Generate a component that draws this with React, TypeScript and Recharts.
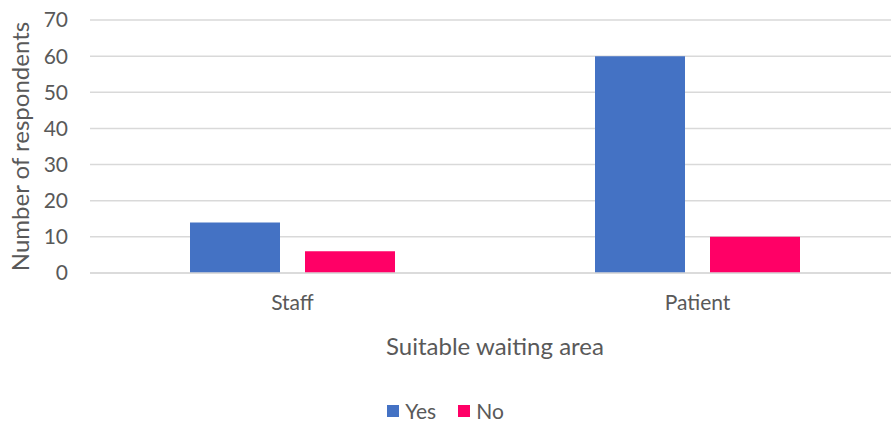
import { BarChart, Bar, XAxis, YAxis, CartesianGrid, Legend, Label } from "recharts";

const groups = ["Staff", "Patient"];
const yesCounts = [14, 60];
const noCounts = [6, 10];
const yTicks = [0, 10, 20, 30, 40, 50, 60, 70];
const seriesKeys = ["Yes", "No"];
const seriesColors = ["#4472C4", "#FF0066"];

const data = groups.map((g, i) => ({ name: g, Yes: yesCounts[i], No: noCounts[i] }));

const FONT = "Lato, 'Open Sans', sans-serif";
const TEXT = "#595959";

// legend drawn by hand so the order stays Yes, No
function SeriesLegend() {
  return (
    <div style={{ display: "flex", justifyContent: "center", gap: 22, height: 53, alignItems: "center", paddingTop: 22, boxSizing: "border-box" }}>
      {seriesKeys.map((k, i) => (
        <div key={k} style={{ display: "flex", alignItems: "center", gap: 6 }}>
          <div style={{ width: 12, height: 12, background: seriesColors[i] }} />
          <span style={{ fontSize: 21, color: TEXT, fontFamily: FONT }}>{k}</span>
        </div>
      ))}
    </div>
  );
}

export default function App() {
  return (
    <div style={{ position: "absolute", left: 0, top: 0, width: 891, height: 426, overflow: "hidden", fontFamily: FONT }}>
      <BarChart
        width={900}
        height={426}
        data={data}
        margin={{ top: 20, right: 0, left: 0, bottom: 0 }}
        barSize={90}
        barGap={25}
      >
        <CartesianGrid vertical={false} stroke="#d9d9d9" strokeWidth={1.5} />
        <XAxis
          dataKey="name"
          height={100}
          tickLine={false}
          axisLine={{ stroke: "#d9d9d9", strokeWidth: 1.5 }}
          tick={{ fill: TEXT, fontSize: 21, fontFamily: FONT }}
          tickMargin={16}
        >
          <Label value="Suitable waiting area" position="insideBottom" offset={18} fill={TEXT} fontSize={24} fontFamily={FONT} />
        </XAxis>
        <YAxis
          width={90}
          domain={[0, 70]}
          ticks={yTicks}
          tickLine={false}
          axisLine={false}
          tick={{ fill: TEXT, fontSize: 21, fontFamily: FONT }}
          tickMargin={16}
        >
          <Label value="Number of respondents" angle={-90} position="insideLeft" offset={20} fill={TEXT} fontSize={24} fontFamily={FONT} style={{ textAnchor: "middle" }} />
        </YAxis>
        <Legend
          verticalAlign="bottom"
          height={53}
          wrapperStyle={{ left: 0, width: 891, height: 53 }}
          content={() => <SeriesLegend />}
        />
        <Bar dataKey="Yes" fill={seriesColors[0]} isAnimationActive={false} />
        <Bar dataKey="No" fill={seriesColors[1]} isAnimationActive={false} />
      </BarChart>
    </div>
  );
}
